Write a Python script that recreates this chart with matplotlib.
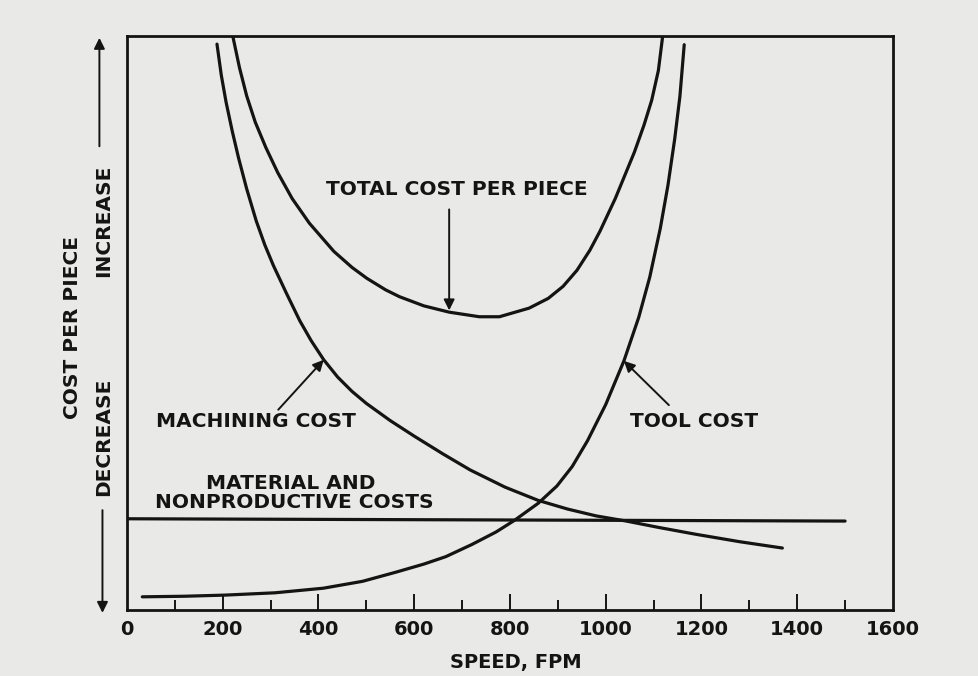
import numpy as np
import matplotlib.pyplot as plt

# values (speed in fpm, cost in relative units 0-100)
tool_speed = [32, 120, 205, 309, 410, 492, 562, 620, 666, 720, 771, 809, 859, 898,
              930, 962, 1000, 1038, 1069, 1092, 1114, 1130, 1144, 1155, 1164]
tool_cost = [2.3, 2.4, 2.6, 3.0, 3.8, 5.0, 6.6, 8.0, 9.3, 11.4, 13.6, 15.6, 18.6, 21.6,
             25.0, 29.5, 35.8, 43.4, 51.0, 58.0, 66.5, 74.0, 82.0, 89.5, 98.5]

mach_speed = [188, 197, 207, 220, 233, 250, 270, 288, 306, 333, 361, 385, 411, 440, 470,
              500, 550, 600, 660, 717, 790, 859, 920, 980, 1043, 1110, 1188, 1280, 1369]
mach_cost = [98.6, 93.2, 88.5, 83.4, 78.8, 73.4, 67.8, 63.6, 60.0, 55.2, 50.4, 46.9, 43.6, 40.6, 38.1,
             36.0, 33.0, 30.3, 27.2, 24.4, 21.4, 19.1, 17.6, 16.4, 15.5, 14.4, 13.2, 11.9, 10.8]

total_speed = [221, 235, 250, 268, 290, 315, 345, 381, 432, 470, 501, 540, 569, 620, 673, 736,
               778, 840, 880, 911, 940, 967, 988, 1020, 1060, 1080, 1096, 1110, 1119]
total_cost = [100.0, 94.5, 89.6, 85.0, 80.6, 76.2, 71.7, 67.4, 62.5, 59.7, 57.8, 55.8, 54.6, 53.0, 51.9, 51.1,
              51.1, 52.6, 54.3, 56.4, 59.2, 62.7, 66.0, 71.7, 79.8, 84.5, 88.8, 94.0, 100.0]

material_speed = [0, 1500]
material_cost = [15.9, 15.5]

tick_major = [0, 200, 400, 600, 800, 1000, 1200, 1400, 1600]
tick_minor = [100, 300, 500, 700, 900, 1100, 1300, 1500]

ink = '#141414'
paper = '#e9e9e7'
font = dict(family='DejaVu Sans', weight='bold', color=ink)

fig = plt.figure(figsize=(9.79, 6.76), dpi=100, facecolor=paper)
ax = fig.add_axes([0.1297, 0.0976, 0.7824, 0.849], facecolor=paper)

lw = 2.3
for xs, ys in [(tool_speed, tool_cost), (mach_speed, mach_cost),
               (total_speed, total_cost), (material_speed, material_cost)]:
    ax.plot(xs, ys, color=ink, lw=lw, solid_capstyle='round', solid_joinstyle='round')

ax.set_xlim(0, 1600)
ax.set_ylim(0, 100)
for s in ax.spines.values():
    s.set_linewidth(2.0)
    s.set_color(ink)

ax.set_xticks(tick_major)
ax.set_xticklabels([str(t) for t in tick_major], fontsize=14, **font)
ax.set_xticks(tick_minor, minor=True)
ax.tick_params(axis='x', which='major', direction='in', length=11.5, width=1.4, pad=7, color=ink)
ax.tick_params(axis='x', which='minor', direction='in', length=7.5, width=1.4, color=ink)
ax.tick_params(axis='y', left=False, labelleft=False)
for t in (ax.xaxis.get_major_ticks()[0], ax.xaxis.get_major_ticks()[-1]):
    t.tick1line.set_visible(False)

ax.set_xlabel('SPEED, FPM', fontsize=14, **font)
ax.xaxis.set_label_coords(0.507, -0.091)
ax.xaxis.label.set_va('center')

# curve labels and arrows
arrow = dict(arrowstyle='-|>', color=ink, lw=1.4, mutation_scale=16, shrinkA=0, shrinkB=0)
ax.text(688, 73.3, 'TOTAL COST PER PIECE', ha='center', va='center', fontsize=14.5, **font)
ax.annotate('', xy=(673, 52.2), xytext=(673, 69.8), arrowprops=arrow)

ax.text(270, 32.8, 'MACHINING COST', ha='center', va='center', fontsize=14.5, **font)
ax.annotate('', xy=(411, 43.6), xytext=(316, 34.9), arrowprops=arrow)

ax.text(1185, 32.8, 'TOOL COST', ha='center', va='center', fontsize=14.5, **font)
ax.annotate('', xy=(1038, 43.4), xytext=(1132, 35.7), arrowprops=arrow)

ax.text(341, 22.1, 'MATERIAL AND', ha='center', va='center', fontsize=14.5, **font)
ax.text(349, 18.8, 'NONPRODUCTIVE COSTS', ha='center', va='center', fontsize=14.5, **font)

# y axis label with increase / decrease arrows
ax.text(-0.071, 0.492, 'COST PER PIECE', transform=ax.transAxes, rotation=90,
        ha='center', va='center', fontsize=14.5, **font)
ax.text(-0.031, 0.678, 'INCREASE', transform=ax.transAxes, rotation=90,
        ha='center', va='center', fontsize=14.5, **font)
ax.text(-0.031, 0.302, 'DECREASE', transform=ax.transAxes, rotation=90,
        ha='center', va='center', fontsize=14.5, **font)
ax.annotate('', xy=(-0.036, 0.997), xytext=(-0.036, 0.808), xycoords='axes fraction',
            arrowprops=arrow, annotation_clip=False)
ax.annotate('', xy=(-0.032, -0.005), xytext=(-0.032, 0.174), xycoords='axes fraction',
            arrowprops=arrow, annotation_clip=False)

fig.savefig('out.png', dpi=100, facecolor=paper)
